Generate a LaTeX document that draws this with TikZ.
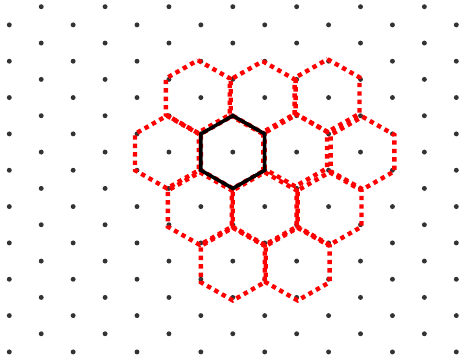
\documentclass[tikz,border=0pt]{standalone}
\usepackage{tikz}

\tikzset{
  site/.style={fill=black!80},
  redcell/.style={red, line width=2.5pt, dash pattern=on 2.5pt off 2.3pt, line join=miter},
  blackcell/.style={black, line width=2pt, line join=miter}
}

\begin{document}
\begin{tikzpicture}[x=0.6386cm, y=-0.3634cm]
    \useasboundingbox (-0.291,-0.369) rectangle (14.147,19.444);
    % lattice points
    \foreach \i in {0,2,...,14}
        \foreach \j in {1,3,...,19}
            \fill[site] (\i,\j) circle (1.4pt);
    \foreach \i in {1,3,...,13}
        \foreach \j in {0,2,...,18}
            \fill[site] (\i,\j) circle (1.4pt);
    % red cells (centre i/j, small shift in px)
    \foreach \ci/\cj/\dx/\dy in {7/8/0/0, 6/5/-3/1, 8/5/-2/0, 10/5/-1/2, 5/8/-2/0, 9/8/-1.5/2,
                                 11/8/2/-1, 6/11/-1/-2, 8/11/0/-2, 10/11/1/-2, 7/14/0/-3, 9/14/1/-3}
        \draw[redcell, xshift={\dx*0.569pt}, yshift={\dy*0.569pt}]
            (\ci,\cj-2) -- (\ci+1,\cj-1) -- (\ci+1,\cj+1) -- (\ci,\cj+2)
            -- (\ci-1,\cj+1) -- (\ci-1,\cj-1) -- cycle;
    % black cell
    \draw[blackcell] (7,6) -- (8,7) -- (8,9) -- (7,10) -- (6,9) -- (6,7) -- cycle;
\end{tikzpicture}
\end{document}
